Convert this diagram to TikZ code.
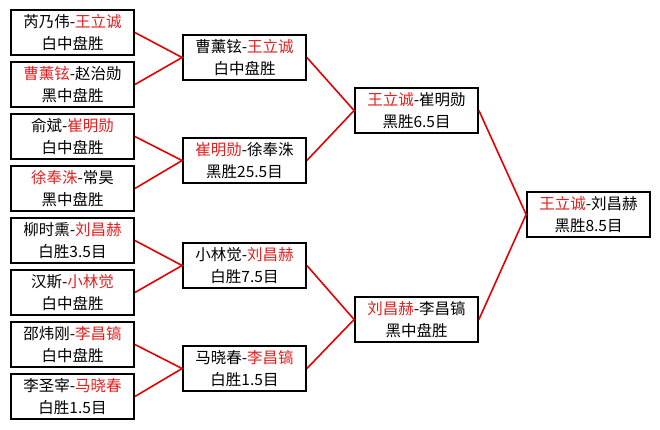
\documentclass[tikz,border=0pt]{standalone}
\usepackage{fontspec}
\setmainfont{Noto Sans CJK SC}
\definecolor{win}{RGB}{228,32,32}
\definecolor{linkred}{RGB}{230,0,0}
\newcommand{\W}[1]{\textcolor{win}{#1}}
\tikzset{
  match/.style={draw=black, line width=1.8pt, fill=white, minimum width=123pt,
    minimum height=45pt, inner sep=0pt, align=center,
    font=\fontsize{15.5}{21.5}\selectfont},
  link/.style={draw=linkred, line width=1.6pt}
}
\begin{document}
\begin{tikzpicture}[x=1pt,y=-1pt]
\useasboundingbox (0,0) rectangle (660,429);
\fill[white] (0,0) rectangle (660,429);
% round 1
\node[match] (a1) at (72.5,32.5)  {芮乃伟-\W{王立诚}\\白中盘胜};
\node[match] (a2) at (72.5,84.5)  {\W{曹薰铉}-赵治勋\\黑中盘胜};
\node[match] (a3) at (72.5,136.5) {俞斌-\W{崔明勋}\\白中盘胜};
\node[match] (a4) at (72.5,188.5) {\W{徐奉洙}-常昊\\黑中盘胜};
\node[match] (a5) at (72.5,240.5) {柳时熏-\W{刘昌赫}\\白胜3.5目};
\node[match] (a6) at (72.5,292.5) {汉斯-\W{小林觉}\\白中盘胜};
\node[match] (a7) at (72.5,344.5) {邵炜刚-\W{李昌镐}\\白中盘胜};
\node[match] (a8) at (72.5,396.5) {李圣宰-\W{马晓春}\\白胜1.5目};
% round 2
\node[match] (b1) at (244.5,57.5)  {曹薰铉-\W{王立诚}\\白中盘胜};
\node[match] (b2) at (244.5,160.5) {\W{崔明勋}-徐奉洙\\黑胜25.5目};
\node[match] (b3) at (244.5,265.5) {小林觉-\W{刘昌赫}\\白胜7.5目};
\node[match] (b4) at (244.5,368.5) {马晓春-\W{李昌镐}\\白胜1.5目};
% round 3
\node[match] (c1) at (416.5,110.5) {\W{王立诚}-崔明勋\\黑胜6.5目};
\node[match] (c2) at (416.5,319.5) {\W{刘昌赫}-李昌镐\\黑中盘胜};
% final
\node[match] (d1) at (588.5,214.5) {\W{王立诚}-刘昌赫\\黑胜8.5目};
% links
\draw[link] (a1.east) -- (b1.west) -- (a2.east);
\draw[link] (a3.east) -- (b2.west) -- (a4.east);
\draw[link] (a5.east) -- (b3.west) -- (a6.east);
\draw[link] (a7.east) -- (b4.west) -- (a8.east);
\draw[link] (b1.east) -- (c1.west) -- (b2.east);
\draw[link] (b3.east) -- (c2.west) -- (b4.east);
\draw[link] (c1.east) -- (d1.west) -- (c2.east);
\end{tikzpicture}
\end{document}
